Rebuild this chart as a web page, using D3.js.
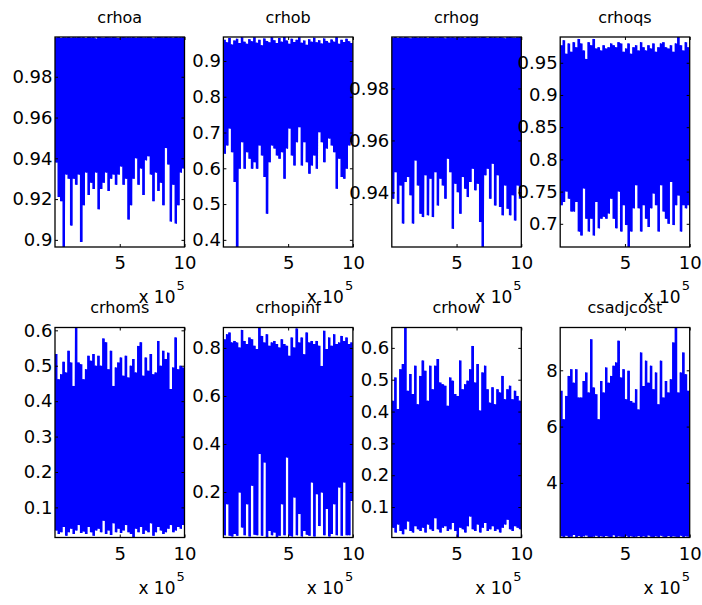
<!DOCTYPE html>
<html>
<head>
<meta charset="utf-8">
<script src="https://cdn.jsdelivr.net/npm/d3@7"></script>
<style>
  body { margin: 0; background: #fff; }
  text { font-family: "DejaVu Sans", sans-serif; }
</style>
</head>
<body>
<div id="chart"></div>
<script>
// MCMC traces, 1e6 draws per parameter. hi/lo = peaks and troughs
var names = ["crhoa", "crhob", "crhog", "crhoqs", "crhoms", "crhopinf", "crhow", "csadjcost"];

var crhoaHi = [0.9993, 0.9995, 0.9990, 0.9994, 0.9992, 0.9995, 0.9991, 0.9994, 0.9993, 0.9995, 0.9992, 0.9994, 0.9990, 0.9995, 0.9993, 0.9994, 0.9988, 0.9995, 0.9993, 0.9991, 0.9995, 0.9994, 0.9992, 0.9995, 0.9993, 0.9990, 0.9994, 0.9995, 0.9992, 0.9994, 0.9993, 0.9995, 0.9991, 0.9994, 0.9995, 0.9992, 0.9993, 0.9995, 0.9994, 0.9989, 0.9993, 0.9995, 0.9994, 0.9992, 0.9995, 0.9993, 0.9994, 0.9991, 0.9995, 0.9993, 0.9994, 0.9995];
var crhoaLo = [0.938, 0.921, 0.919, 0.8965, 0.932, 0.930, 0.907, 0.930, 0.927, 0.932, 0.899, 0.917, 0.933, 0.922, 0.928, 0.925, 0.933, 0.915, 0.925, 0.928, 0.933, 0.924, 0.930, 0.932, 0.927, 0.932, 0.936, 0.927, 0.930, 0.910, 0.917, 0.930, 0.940, 0.927, 0.935, 0.922, 0.939, 0.941, 0.932, 0.919, 0.933, 0.924, 0.928, 0.917, 0.945, 0.937, 0.909, 0.927, 0.908, 0.917, 0.933, 0.935];

var crhobHi = [0.959, 0.952, 0.964, 0.946, 0.957, 0.962, 0.950, 0.966, 0.954, 0.948, 0.961, 0.955, 0.966, 0.951, 0.959, 0.944, 0.963, 0.956, 0.952, 0.966, 0.958, 0.950, 0.964, 0.954, 0.967, 0.957, 0.948, 0.962, 0.953, 0.959, 0.966, 0.951, 0.957, 0.945, 0.961, 0.954, 0.965, 0.952, 0.958, 0.949, 0.963, 0.956, 0.951, 0.960, 0.954, 0.966, 0.948, 0.959, 0.953, 0.962, 0.955, 0.950];
var crhobLo = [0.641, 0.664, 0.711, 0.645, 0.562, 0.380, 0.599, 0.673, 0.599, 0.645, 0.627, 0.599, 0.617, 0.599, 0.664, 0.636, 0.576, 0.473, 0.617, 0.664, 0.655, 0.636, 0.627, 0.645, 0.571, 0.655, 0.711, 0.636, 0.608, 0.673, 0.715, 0.608, 0.673, 0.617, 0.585, 0.608, 0.636, 0.599, 0.701, 0.673, 0.617, 0.655, 0.683, 0.664, 0.645, 0.543, 0.627, 0.576, 0.571, 0.599, 0.664, 0.673];

var crhogHi = [0.9996, 0.9998, 0.9994, 0.9997, 0.9995, 0.9998, 0.9996, 0.9993, 0.9997, 0.9998, 0.9995, 0.9997, 0.9996, 0.9998, 0.9994, 0.9997, 0.9998, 0.9995, 0.9996, 0.9998, 0.9997, 0.9993, 0.9998, 0.9996, 0.9997, 0.9995, 0.9998, 0.9996, 0.9997, 0.9994, 0.9998, 0.9996, 0.9997, 0.9998, 0.9995, 0.9996, 0.9998, 0.9997, 0.9994, 0.9998, 0.9996, 0.9997, 0.9995, 0.9998, 0.9996, 0.9993, 0.9997, 0.9998, 0.9996, 0.9995, 0.9997, 0.9998];
var crhogLo = [0.9376, 0.9478, 0.9356, 0.9427, 0.9280, 0.9440, 0.9459, 0.9389, 0.9280, 0.9523, 0.9427, 0.9318, 0.9305, 0.9466, 0.9312, 0.9453, 0.9305, 0.9478, 0.9350, 0.9453, 0.9427, 0.9376, 0.9530, 0.9478, 0.9260, 0.9433, 0.9401, 0.9318, 0.9459, 0.9414, 0.9382, 0.9440, 0.9491, 0.9408, 0.9433, 0.9286, 0.9190, 0.9466, 0.9491, 0.9376, 0.9510, 0.9350, 0.9466, 0.9344, 0.9312, 0.9427, 0.9337, 0.9312, 0.9389, 0.9292, 0.9427, 0.9376];

var crhoqsHi = [0.977, 0.985, 0.964, 0.980, 0.967, 0.982, 0.974, 0.987, 0.980, 0.969, 0.956, 0.982, 0.977, 0.987, 0.972, 0.974, 0.969, 0.977, 0.972, 0.974, 0.980, 0.977, 0.974, 0.982, 0.980, 0.967, 0.972, 0.980, 0.964, 0.974, 0.977, 0.969, 0.982, 0.974, 0.969, 0.977, 0.972, 0.980, 0.967, 0.974, 0.980, 0.982, 0.974, 0.972, 0.977, 0.967, 0.980, 0.990, 0.977, 0.969, 0.982, 0.974];
var crhoqsLo = [0.729, 0.734, 0.750, 0.739, 0.719, 0.719, 0.734, 0.688, 0.682, 0.755, 0.708, 0.688, 0.708, 0.682, 0.734, 0.693, 0.708, 0.711, 0.708, 0.716, 0.739, 0.708, 0.693, 0.750, 0.688, 0.729, 0.698, 0.664, 0.688, 0.724, 0.760, 0.724, 0.688, 0.729, 0.708, 0.695, 0.724, 0.747, 0.729, 0.688, 0.760, 0.719, 0.708, 0.700, 0.765, 0.698, 0.729, 0.744, 0.688, 0.729, 0.724, 0.729];

var crhomsHi = [0.533, 0.462, 0.476, 0.511, 0.481, 0.542, 0.509, 0.443, 0.608, 0.509, 0.504, 0.462, 0.490, 0.528, 0.514, 0.533, 0.500, 0.528, 0.500, 0.577, 0.566, 0.490, 0.542, 0.443, 0.495, 0.509, 0.523, 0.472, 0.528, 0.467, 0.500, 0.519, 0.481, 0.556, 0.566, 0.472, 0.523, 0.486, 0.533, 0.476, 0.481, 0.570, 0.500, 0.542, 0.519, 0.537, 0.434, 0.495, 0.580, 0.490, 0.500, 0.495];
var crhomsLo = [0.035, 0.025, 0.030, 0.045, 0.020, 0.030, 0.040, 0.025, 0.035, 0.050, 0.028, 0.032, 0.025, 0.045, 0.030, 0.020, 0.035, 0.040, 0.030, 0.062, 0.025, 0.035, 0.022, 0.055, 0.030, 0.040, 0.028, 0.035, 0.050, 0.030, 0.025, 0.015, 0.040, 0.030, 0.045, 0.025, 0.035, 0.030, 0.055, 0.020, 0.030, 0.045, 0.035, 0.025, 0.030, 0.040, 0.050, 0.030, 0.035, 0.045, 0.040, 0.050];

var crhopinfHi = [0.836, 0.857, 0.864, 0.823, 0.829, 0.823, 0.802, 0.875, 0.829, 0.816, 0.843, 0.836, 0.809, 0.795, 0.885, 0.850, 0.823, 0.857, 0.809, 0.823, 0.829, 0.816, 0.802, 0.836, 0.816, 0.809, 0.767, 0.843, 0.802, 0.881, 0.823, 0.843, 0.774, 0.864, 0.823, 0.829, 0.816, 0.829, 0.809, 0.725, 0.871, 0.795, 0.843, 0.809, 0.857, 0.816, 0.823, 0.850, 0.829, 0.843, 0.816, 0.823];
var crhopinfLo = [0.020, 0.149, 0.018, 0.015, 0.025, 0.018, 0.198, 0.052, 0.020, 0.149, 0.015, 0.226, 0.022, 0.020, 0.358, 0.018, 0.323, 0.012, 0.038, 0.020, 0.031, 0.0105, 0.018, 0.149, 0.020, 0.344, 0.018, 0.015, 0.177, 0.020, 0.108, 0.015, 0.038, 0.022, 0.018, 0.240, 0.015, 0.191, 0.058, 0.198, 0.020, 0.129, 0.015, 0.025, 0.149, 0.020, 0.219, 0.018, 0.240, 0.020, 0.020, 0.163];

var crhowHi = [0.434, 0.507, 0.408, 0.533, 0.549, 0.664, 0.465, 0.518, 0.455, 0.544, 0.423, 0.512, 0.560, 0.528, 0.434, 0.544, 0.470, 0.544, 0.565, 0.491, 0.486, 0.481, 0.418, 0.507, 0.497, 0.455, 0.449, 0.560, 0.470, 0.486, 0.497, 0.533, 0.606, 0.491, 0.549, 0.403, 0.523, 0.544, 0.470, 0.428, 0.476, 0.423, 0.470, 0.460, 0.512, 0.439, 0.470, 0.481, 0.439, 0.465, 0.449, 0.434];
var crhowLo = [0.035, 0.020, 0.045, 0.025, 0.015, 0.030, 0.055, 0.025, 0.020, 0.040, 0.030, 0.025, 0.035, 0.020, 0.045, 0.030, 0.025, 0.065, 0.030, 0.020, 0.035, 0.040, 0.025, 0.030, 0.050, 0.025, 0.0044, 0.035, 0.030, 0.020, 0.040, 0.070, 0.030, 0.025, 0.045, 0.020, 0.035, 0.050, 0.025, 0.030, 0.040, 0.025, 0.030, 0.020, 0.035, 0.045, 0.060, 0.030, 0.025, 0.040, 0.035, 0.030];

var csadjcostHi = [7.27, 6.26, 7.09, 7.80, 8.04, 7.56, 8.04, 7.03, 7.03, 7.62, 7.92, 7.21, 9.10, 7.39, 7.15, 6.26, 7.62, 7.21, 8.10, 7.56, 7.80, 8.16, 8.28, 9.05, 7.74, 8.04, 6.97, 7.98, 6.91, 6.85, 7.33, 6.61, 8.63, 7.44, 8.34, 7.56, 8.16, 7.33, 7.92, 6.79, 8.34, 7.03, 7.62, 7.21, 7.68, 8.99, 9.52, 7.21, 7.92, 8.63, 7.86, 7.27];
var csadjcostLo = [2.10, 2.08, 2.12, 2.07, 2.09, 2.15, 2.08, 2.11, 2.07, 2.10, 2.13, 2.08, 2.06, 2.09, 2.12, 2.08, 2.10, 2.07, 2.11, 2.09, 2.08, 2.14, 2.07, 2.10, 2.09, 2.06, 2.12, 2.08, 2.10, 2.07, 2.09, 2.11, 2.08, 2.10, 2.07, 2.13, 2.09, 2.08, 2.10, 2.07, 2.12, 2.09, 2.08, 2.11, 2.07, 2.10, 2.09, 2.08, 2.12, 2.07, 2.10, 2.09];

// tick labels
var crhoaTicks = [0.9, 0.92, 0.94, 0.96, 0.98];
var crhobTicks = [0.4, 0.5, 0.6, 0.7, 0.8, 0.9];
var crhogTicks = [0.94, 0.96, 0.98];
var crhoqsTicks = [0.7, 0.75, 0.8, 0.85, 0.9, 0.95];
var crhomsTicks = [0.1, 0.2, 0.3, 0.4, 0.5, 0.6];
var crhopinfTicks = [0.2, 0.4, 0.6, 0.8];
var crhowTicks = [0.1, 0.2, 0.3, 0.4, 0.5, 0.6];
var csadjcostTicks = [4, 6, 8];
var xTicks = [5, 10];
var xExponent = 5;
var nDraws = 1e6;

var panels = [
  {hi: crhoaHi, lo: crhoaLo, ticks: crhoaTicks},
  {hi: crhobHi, lo: crhobLo, ticks: crhobTicks},
  {hi: crhogHi, lo: crhogLo, ticks: crhogTicks},
  {hi: crhoqsHi, lo: crhoqsLo, ticks: crhoqsTicks},
  {hi: crhomsHi, lo: crhomsLo, ticks: crhomsTicks},
  {hi: crhopinfHi, lo: crhopinfLo, ticks: crhopinfTicks},
  {hi: crhowHi, lo: crhowLo, ticks: crhowTicks},
  {hi: csadjcostHi, lo: csadjcostLo, ticks: csadjcostTicks}
];
panels.forEach((p, i) => p.name = names[i]);

var width = 702, height = 605;
var boxW = 129.5, boxH = 210;
var left0 = 55, colStep = 168.4;
var rowTop = [37, 327.5];
var tickLen = 3;
var blue = "#0000ff";

var svg = d3.select("#chart").append("svg")
  .attr("width", width)
  .attr("height", height);

panels.forEach(function(p, k) {
  var col = k % 4, row = Math.floor(k / 4);
  var g = svg.append("g")
    .attr("transform", `translate(${left0 + col * colStep}, ${rowTop[row]})`);

  var n = p.hi.length;
  var blockStep = nDraws / n;
  var yExt = d3.extent(p.hi.concat(p.lo));

  var x = d3.scaleLinear().domain([0, nDraws]).range([0, boxW]);
  var y = d3.scaleLinear().domain(yExt).range([boxH, 0]);

  // each block of draws spans its trough..peak range; the dense trace fills it
  var blocks = p.hi.map((h, i) => ({draw: i * blockStep, hi: h, lo: p.lo[i]}));
  blocks.push(Object.assign({}, blocks[n - 1], {draw: nDraws}));

  var band = d3.area()
    .curve(d3.curveStepAfter)
    .x(d => x(d.draw))
    .y0(d => y(d.lo))
    .y1(d => y(d.hi));

  // the trace itself, peak then trough within each block
  var trace = p.hi.flatMap((h, i) => [
    {draw: (i + 0.25) * blockStep, v: h},
    {draw: (i + 0.75) * blockStep, v: p.lo[i]}
  ]);
  var line = d3.line()
    .x(d => x(d.draw))
    .y(d => y(d.v));

  g.append("clipPath").attr("id", "clip" + k)
    .append("rect").attr("width", boxW).attr("height", boxH);

  var plot = g.append("g").attr("clip-path", `url(#clip${k})`);
  plot.append("path")
    .attr("d", band(blocks))
    .attr("fill", blue);
  plot.append("path")
    .attr("d", line(trace))
    .attr("fill", "none")
    .attr("stroke", blue)
    .attr("stroke-width", 0.8);

  var xTickVals = xTicks.map(t => t * Math.pow(10, xExponent));

  // axes, ticks pointing inwards on all four sides
  var axB = g.append("g").attr("transform", `translate(0, ${boxH})`)
    .call(d3.axisBottom(x).tickValues(xTickVals).tickFormat(d => d / Math.pow(10, xExponent))
      .tickSize(-tickLen).tickPadding(9.5));
  var axT = g.append("g")
    .call(d3.axisTop(x).tickValues(xTickVals).tickFormat("").tickSize(-tickLen));
  var axL = g.append("g")
    .call(d3.axisLeft(y).tickValues(p.ticks).tickFormat(d => String(d))
      .tickSize(-tickLen).tickPadding(2.5));
  var axR = g.append("g").attr("transform", `translate(${boxW}, 0)`)
    .call(d3.axisRight(y).tickValues(p.ticks).tickFormat("").tickSize(-tickLen));

  [axB, axT, axL, axR].forEach(function(a) {
    a.select(".domain").remove();
    a.attr("font-family", "DejaVu Sans").attr("font-size", 18);
    a.selectAll("line").attr("stroke", "#000");
    a.selectAll("text").attr("fill", "#000");
  });

  g.append("rect")
    .attr("width", boxW).attr("height", boxH)
    .attr("fill", "none")
    .attr("stroke", "#000")
    .attr("stroke-width", 1.3);

  g.append("text")
    .attr("x", boxW / 2).attr("y", -14.5)
    .attr("text-anchor", "middle")
    .attr("font-size", 16)
    .text(p.name);

  g.append("text")
    .attr("x", boxW - 9).attr("y", boxH + 56)
    .attr("text-anchor", "end")
    .attr("font-size", 17)
    .text("x 10");
  g.append("text")
    .attr("x", boxW - 8).attr("y", boxH + 43)
    .attr("font-size", 13)
    .text(xExponent);
});
</script>
</body>
</html>
